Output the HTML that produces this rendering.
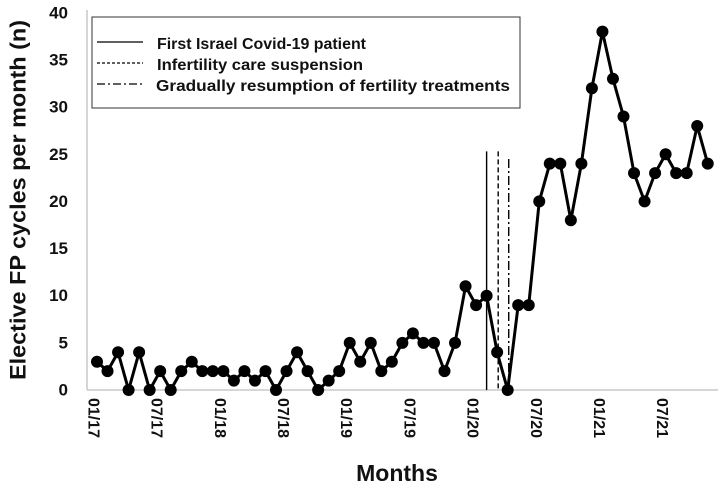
<!DOCTYPE html>
<html><head><meta charset="utf-8"><style>
body{margin:0;background:#fff}
svg{display:block;font-family:"Liberation Sans",sans-serif}
</style></head><body>
<svg id="chart" width="721" height="491">
<line x1="87" y1="10" x2="87" y2="390" stroke="#c8c8c8" stroke-width="1.5"/>
<line x1="87" y1="390" x2="718" y2="390" stroke="#c8c8c8" stroke-width="1.5"/>
<g id="yticks"></g><g id="xticks"></g><g id="vlines"></g><g id="series"></g>
<text x="18" y="200" transform="rotate(-90 18 200)" text-anchor="middle" dominant-baseline="central" font-size="22" font-weight="bold" fill="#111" textLength="360" lengthAdjust="spacingAndGlyphs">Elective FP cycles per month (n)</text>
<text x="397" y="481" text-anchor="middle" font-size="23" font-weight="bold" fill="#111">Months</text>
<g>
<rect x="92" y="17" width="428" height="91" fill="#fff" stroke="#333" stroke-width="1"/>
<line x1="97" y1="42" x2="143" y2="42" stroke="#000" stroke-width="1.2"/>
<text x="157" y="49" font-size="16" font-weight="bold" fill="#111" textLength="209" lengthAdjust="spacingAndGlyphs">First Israel Covid-19 patient</text>
<line x1="97" y1="63" x2="143" y2="63" stroke="#000" stroke-width="1.2" stroke-dasharray="3,2"/>
<text x="157" y="70" font-size="16" font-weight="bold" fill="#111" textLength="206" lengthAdjust="spacingAndGlyphs">Infertility care suspension</text>
<line x1="97" y1="84" x2="143" y2="84" stroke="#000" stroke-width="1.2" stroke-dasharray="8,3,2,3"/>
<text x="156" y="91" font-size="16" font-weight="bold" fill="#111" textLength="354" lengthAdjust="spacingAndGlyphs">Gradually resumption of fertility treatments</text>
</g>
</svg>
<script>
const values=[3,2,4,0,4,0,2,0,2,3,2,2,2,1,2,1,2,0,2,4,2,0,1,2,5,3,5,2,3,5,6,5,5,2,5,11,9,10,4,0,9,9,20,24,24,18,24,32,38,33,29,23,20,23,25,23,23,28,24];
const xLabels=["01/17","07/17","01/18","07/18","01/19","07/19","01/20","07/20","01/21","07/21"];
const yTicks=[0,5,10,15,20,25,30,35,40];
const eventIdx=[37.0,38.1,39.1];
const eventTops=[25.3,25.3,24.5];
const eventDash=["none","5,3","9,3,2,3"];
const NS="http://www.w3.org/2000/svg";
const X=i=>97+i*10.53;
const Y=v=>390-v*9.43;
function mk(tag,attrs,parent){const e=document.createElementNS(NS,tag);for(const k in attrs)e.setAttribute(k,attrs[k]);document.getElementById(parent).appendChild(e);return e;}
yTicks.forEach(v=>{const t=mk('text',{x:68,y:Y(v),'text-anchor':'end','dominant-baseline':'central','font-size':17,'font-weight':'bold',fill:'#111'},'yticks');t.textContent=v;

});
xLabels.forEach((l,k)=>{const x=X(k*6)-4,y=398;const t=mk('text',{x:x,y:y,transform:`rotate(90 ${x} ${y})`,'dominant-baseline':'central','font-size':16,'font-weight':'bold',fill:'#111'},'xticks');t.textContent=l;

});
eventIdx.forEach((ix,j)=>{const l=mk('line',{x1:X(ix),x2:X(ix),y1:Y(eventTops[j]),y2:390,stroke:'#000','stroke-width':1.4,'stroke-dasharray':eventDash[j]},'vlines');

});
const p=mk('polyline',{points:values.map((v,i)=>X(i)+','+Y(v)).join(' '),fill:'none',stroke:'#000','stroke-width':3,'stroke-linejoin':'round'},'series');


values.forEach((v,i)=>{const c=mk('circle',{cx:X(i),cy:Y(v),r:6,fill:'#000'},'series');

});
</script>
</body></html>
